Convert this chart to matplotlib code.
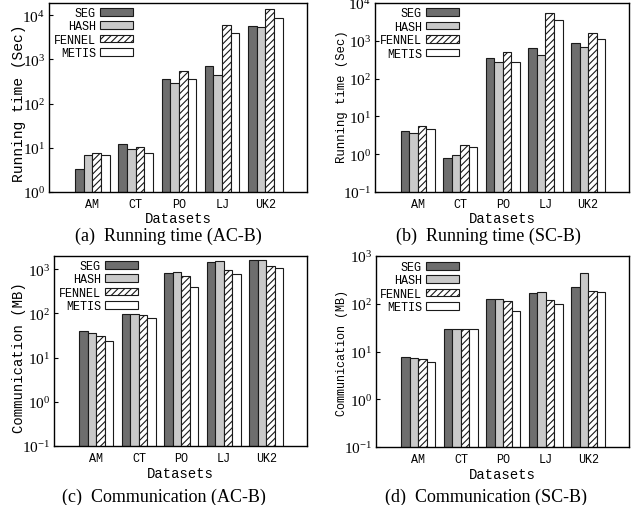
import matplotlib
matplotlib.use('Agg')

import matplotlib.pyplot as plt
import numpy as np

plt.rcParams['font.family'] = 'Liberation Serif'
plt.rcParams['mathtext.fontset'] = 'custom'
plt.rcParams['mathtext.rm'] = 'Liberation Serif'
plt.rcParams['hatch.linewidth'] = 0.8

datasets = ['AM', 'CT', 'PO', 'LJ', 'UK2']
methods = ['SEG', 'HASH', 'FENNEL', 'METIS']

# (a) running time, AC-B
time_ac_seg = [3.4, 12.3, 370, 720, 5600]
time_ac_hash = [6.8, 9.5, 300, 455, 5350]
time_ac_fennel = [7.7, 10.4, 560, 5900, 13700]
time_ac_metis = [7.0, 7.8, 365, 4000, 8700]

# (b) running time, SC-B
time_sc_seg = [4.1, 0.78, 347, 635, 880]
time_sc_hash = [3.7, 0.95, 282, 430, 705]
time_sc_fennel = [5.7, 1.7, 500, 5500, 1570]
time_sc_metis = [4.7, 1.55, 282, 3650, 1150]

# (c) communication, AC-B
comm_ac_seg = [40, 98, 830, 1440, 1590]
comm_ac_hash = [36, 97, 880, 1550, 1620]
comm_ac_fennel = [31, 93, 700, 970, 1170]
comm_ac_metis = [24, 80, 400, 765, 1085]

# (d) communication, SC-B
comm_sc_seg = [7.5, 29, 124, 170, 219]
comm_sc_hash = [7.4, 29, 125, 175, 446]
comm_sc_fennel = [6.9, 29, 114, 118, 187]
comm_sc_metis = [6.1, 29, 72, 98, 178]

styles = [
    dict(color='#6e6e6e', hatch=None),
    dict(color='#c9c9c9', hatch=None),
    dict(color='white', hatch='/////'),
    dict(color='white', hatch=None),
]

W, H = 635, 506
fig = plt.figure(figsize=(W / 100, H / 100), dpi=100)


def px_axes(l, r, t, b):
    return fig.add_axes([l / W, 1 - b / H, (r - l) / W, (b - t) / H])


panels = [
    dict(box=(49, 307, 4, 193), data=[time_ac_seg, time_ac_hash, time_ac_fennel, time_ac_metis],
         ylim=(1, 19000), ylabel='Running time (Sec)', ylsize=10.5, ylpos=(-0.116, 0.476),
         caption='(a)  Running time (AC-B)', cap=(168, 236.5), xlab_y=219, leg=(0.326, 0.979)),
    dict(box=(375, 629, 4, 193), data=[time_sc_seg, time_sc_hash, time_sc_fennel, time_sc_metis],
         ylim=(0.1, 10000), ylabel='Running time (Sec)', ylsize=8.8, ylpos=(-0.131, 0.508),
         caption='(b)  Running time (SC-B)', cap=(488, 236.5), xlab_y=219, leg=(0.331, 0.977)),
    dict(box=(54, 307, 257, 447), data=[comm_ac_seg, comm_ac_hash, comm_ac_fennel, comm_ac_metis],
         ylim=(0.1, 2000), ylabel='Communication (MB)', ylsize=10, ylpos=(-0.138, 0.47),
         caption='(c)  Communication (AC-B)', cap=(164, 497.5), xlab_y=474, leg=(0.332, 0.979)),
    dict(box=(376, 629, 257, 448), data=[comm_sc_seg, comm_sc_hash, comm_sc_fennel, comm_sc_metis],
         ylim=(0.1, 1000), ylabel='Communication (MB)', ylsize=8.5, ylpos=(-0.136, 0.497),
         caption='(d)  Communication (SC-B)', cap=(486, 497.5), xlab_y=475, leg=(0.328, 0.974)),
]

mono = 'Liberation Mono'
x = np.arange(len(datasets))
width = 0.2

for p in panels:
    l, r, t, b = p['box']
    ax = px_axes(l, r, t, b)
    for i, (vals, st) in enumerate(zip(p['data'], styles)):
        ax.bar(x + (i - 1.5) * width, vals, width, label=methods[i],
               color=st['color'], hatch=st['hatch'], edgecolor='#1a1a1a', linewidth=0.8)
    ax.set_yscale('log')
    ax.set_ylim(*p['ylim'])
    ax.set_xlim(-1.0, 4.96)
    ax.minorticks_off()
    ax.yaxis.set_major_locator(matplotlib.ticker.LogLocator(base=10, numticks=10))
    ax.set_xticks(x)
    ax.set_xticklabels(datasets, fontfamily=mono, fontsize=8.5)
    ax.tick_params(axis='x', length=0, pad=4)
    ax.tick_params(axis='y', direction='in', length=3, width=0.8, labelsize=11, pad=3)
    for s in ax.spines.values():
        s.set_linewidth(1.0)

    ax.set_xlabel('Datasets', fontfamily=mono, fontsize=10)
    ax.xaxis.set_label_coords(0.5, (b - p['xlab_y']) / (b - t))
    ax.xaxis.label.set_va('center')

    ax.set_ylabel(p['ylabel'], fontfamily=mono, fontsize=p['ylsize'])
    ax.yaxis.set_label_coords(*p['ylpos'])
    ax.yaxis.label.set_va('center')

    ax.legend(loc='upper right', bbox_to_anchor=p['leg'], frameon=False, markerfirst=False,
              prop={'family': mono, 'size': 8.5}, handlelength=2.8, handleheight=0.6,
              handletextpad=0.35, labelspacing=0.12, borderaxespad=0, borderpad=0)

    fig.text(p['cap'][0] / W, 1 - p['cap'][1] / H, p['caption'], ha='center', va='center',
             fontsize=13)

fig.savefig('out.png', dpi=100)
